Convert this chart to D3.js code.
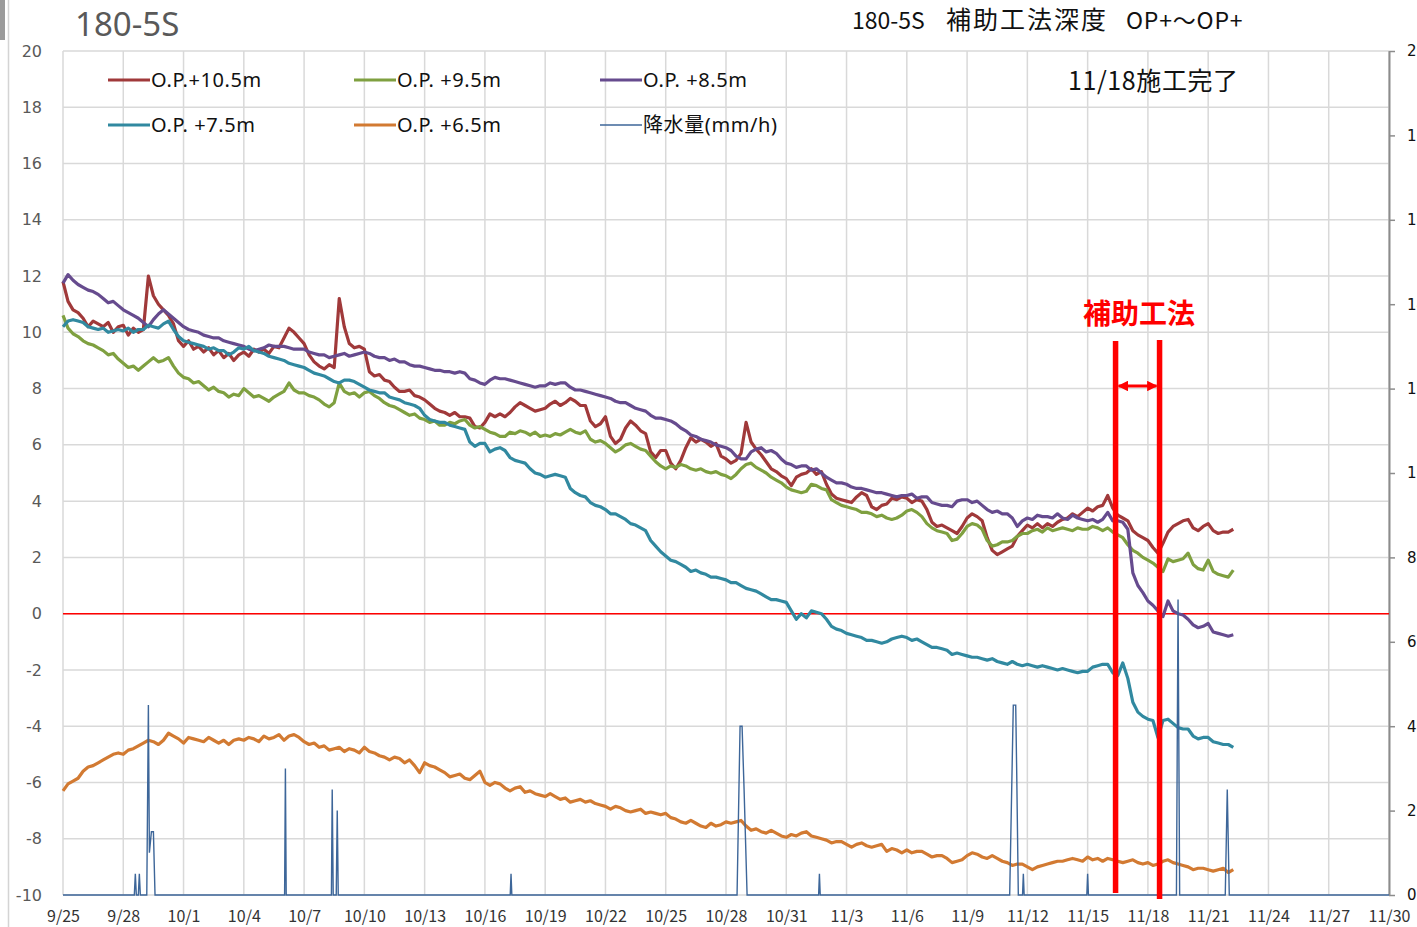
<!DOCTYPE html>
<html><head><meta charset="utf-8">
<script src="https://cdn.jsdelivr.net/npm/d3@7"></script>
<style>body{margin:0;background:#fff;overflow:hidden;} svg{display:block;}</style>
</head><body>
<svg id="chart" width="1417" height="927"></svg>
<script>
// ---------------- DATA ----------------
const startDay = "9/25";          // first sample, one sample every 6 hours
const endDay = "11/30";
const stepHours = 6;

const seriesNames = ["O.P.+10.5m", "O.P. +9.5m", "O.P. +8.5m", "O.P. +7.5m", "O.P. +6.5m", "降水量(mm/h)"];

const op105 = [
11.8,11.1,10.8,10.7, 10.5,10.2,10.4,10.3, 10.2,10.35,10.0,10.2, 10.25,9.9,10.15,10.0,
10.1,12.0,11.3,11.0, 10.8,10.6,10.3,9.7, 9.5,9.7,9.4,9.5, 9.3,9.45,9.2,9.35,
9.1,9.25,9.0,9.2, 9.3,9.15,9.4,9.3, 9.4,9.25,9.5,9.45, 9.8,10.15,10.0,9.8,
9.6,9.2,8.95,8.8, 8.7,8.85,8.75,11.2, 10.2,9.6,9.45,9.5, 9.4,8.6,8.45,8.5,
8.3,8.25,8.05,7.9, 7.9,7.95,7.75,7.7, 7.6,7.45,7.3,7.2, 7.15,7.05,7.15,7.0,
7.0,6.95,6.65,6.6, 6.8,7.1,7.0,7.1, 7.0,7.15,7.35,7.5, 7.4,7.3,7.2,7.25,
7.3,7.45,7.55,7.4, 7.5,7.65,7.55,7.4, 7.4,6.85,6.65,6.75, 7.0,6.3,6.05,6.2,
6.6,6.85,6.7,6.5, 6.4,5.75,5.55,5.8, 5.8,5.35,5.15,5.45, 5.9,6.25,6.1,6.2,
6.1,5.95,6.05,5.6, 5.5,5.35,5.45,5.7, 6.8,6.1,5.85,5.65, 5.4,5.15,5.05,4.9,
4.8,4.55,4.85,4.95, 5.0,5.15,4.95,5.05, 4.6,4.25,4.1,4.05, 4.0,3.95,4.15,4.3,
4.2,3.8,3.7,3.85, 3.9,4.1,4.05,4.15, 4.1,3.95,4.05,4.0, 3.7,3.25,3.1,3.15,
3.05,2.95,2.85,3.1, 3.4,3.55,3.45,3.3, 2.7,2.25,2.1,2.2, 2.3,2.4,2.75,2.95,
3.15,3.05,3.2,3.05, 3.2,3.1,3.25,3.35, 3.4,3.55,3.45,3.6, 3.75,3.65,3.8,3.85,
4.2,3.75,3.5,3.4, 3.3,2.95,2.8,2.7, 2.6,2.35,2.15,2.5, 2.9,3.1,3.2,3.3,
3.35,3.05,2.95,3.1, 3.2,2.95,2.85,2.9, 2.9,3.0];

const op95 = [
10.6,10.15,9.95,9.85, 9.7,9.6,9.55,9.45, 9.35,9.2,9.25,9.05, 8.9,8.75,8.8,8.65,
8.8,8.95,9.1,8.95, 9.0,9.1,8.8,8.55, 8.4,8.35,8.2,8.25, 8.1,7.95,8.05,7.9,
7.85,7.7,7.8,7.75, 8.0,7.85,7.7,7.75, 7.65,7.55,7.7,7.8, 7.9,8.2,7.95,7.85,
7.85,7.75,7.7,7.6, 7.45,7.35,7.5,8.2, 7.9,7.8,7.85,7.7, 7.85,7.9,7.75,7.65,
7.5,7.4,7.35,7.25, 7.15,7.05,7.1,6.95, 6.9,6.8,6.85,6.7, 6.7,6.8,6.75,6.85,
6.9,6.7,6.6,6.65, 6.55,6.45,6.4,6.3, 6.3,6.45,6.4,6.5, 6.45,6.35,6.45,6.3,
6.35,6.3,6.4,6.35, 6.45,6.55,6.45,6.4, 6.5,6.2,6.1,6.15, 6.05,5.9,5.75,5.85,
6.0,6.05,5.95,5.85, 5.8,5.6,5.4,5.25, 5.15,5.25,5.2,5.3, 5.25,5.15,5.1,5.15,
5.05,5.0,5.05,4.95, 4.9,4.8,4.95,5.15, 5.3,5.35,5.2,5.1, 5.0,4.85,4.75,4.65,
4.5,4.4,4.35,4.3, 4.35,4.6,4.55,4.45, 4.4,4.05,3.95,3.85, 3.8,3.75,3.7,3.6,
3.6,3.55,3.45,3.5, 3.4,3.35,3.4,3.5, 3.65,3.7,3.6,3.45, 3.2,3.05,2.95,2.9,
2.85,2.6,2.65,2.85, 3.1,3.2,3.15,3.0, 2.6,2.4,2.45,2.55, 2.55,2.6,2.75,2.85,
2.85,2.95,3.0,2.9, 3.05,2.95,3.0,3.05, 3.0,2.95,3.05,3.0, 3.0,3.1,3.05,2.95,
3.05,2.9,2.8,2.7, 2.45,2.25,2.15,2.0, 1.9,1.8,1.65,1.5, 1.95,1.85,1.9,1.95,
2.15,1.75,1.6,1.55, 1.9,1.5,1.4,1.35, 1.3,1.55];

const op85 = [
11.75,12.05,11.85,11.7, 11.6,11.5,11.45,11.35, 11.2,11.05,11.1,10.95, 10.8,10.7,10.6,10.5,
10.35,10.2,10.45,10.65, 10.8,10.65,10.5,10.35, 10.2,10.1,10.05,10.0, 9.9,9.85,9.8,9.8,
9.7,9.65,9.6,9.55, 9.5,9.4,9.35,9.4, 9.45,9.55,9.5,9.5, 9.5,9.45,9.4,9.4,
9.4,9.3,9.25,9.2, 9.2,9.1,9.15,9.2, 9.25,9.15,9.2,9.25, 9.3,9.25,9.15,9.1,
9.1,9.0,9.05,8.95, 8.95,8.85,8.8,8.8, 8.75,8.7,8.65,8.65, 8.6,8.6,8.55,8.6,
8.55,8.35,8.3,8.2, 8.15,8.3,8.4,8.35, 8.35,8.3,8.25,8.2, 8.15,8.1,8.05,8.1,
8.1,8.2,8.15,8.2, 8.2,8.05,7.95,7.95, 7.9,7.85,7.8,7.75, 7.7,7.65,7.55,7.5,
7.5,7.4,7.3,7.25, 7.2,7.05,6.95,6.95, 6.9,6.85,6.75,6.6, 6.5,6.35,6.3,6.2,
6.15,6.1,6.0,5.95, 5.9,5.8,5.6,5.5, 5.5,5.75,5.85,5.9, 5.75,5.8,5.7,5.5,
5.35,5.3,5.2,5.25, 5.25,5.1,5.15,5.0, 4.85,4.75,4.65,4.65, 4.6,4.5,4.45,4.45,
4.4,4.35,4.3,4.3, 4.25,4.2,4.15,4.2, 4.2,4.25,4.1,4.15, 4.15,3.95,3.9,3.85,
3.85,3.8,4.0,4.05, 4.05,3.95,4.0,3.85, 3.7,3.6,3.65,3.55, 3.55,3.4,3.1,3.3,
3.4,3.35,3.5,3.45, 3.45,3.4,3.55,3.4, 3.35,3.5,3.4,3.35, 3.3,3.35,3.25,3.35,
3.6,3.3,3.3,3.25, 3.0,1.45,1.0,0.75, 0.45,0.3,0.1,-0.1, 0.45,0.1,0.0,-0.05,
-0.2,-0.4,-0.5,-0.45, -0.35,-0.65,-0.7,-0.75, -0.8,-0.75];

const op75 = [
10.2,10.4,10.45,10.4, 10.35,10.2,10.15,10.1, 10.15,10.0,10.05,10.1, 10.05,10.15,10.0,10.1,
10.1,10.25,10.2,10.15, 10.3,10.4,10.1,9.85, 9.7,9.65,9.6,9.55, 9.5,9.4,9.45,9.35,
9.35,9.2,9.3,9.45, 9.4,9.5,9.35,9.3, 9.25,9.15,9.1,9.05, 9.0,8.9,8.85,8.8,
8.75,8.65,8.55,8.5, 8.45,8.35,8.25,8.2, 8.3,8.3,8.25,8.15, 8.05,7.95,7.9,7.85,
7.85,7.7,7.65,7.6, 7.5,7.45,7.4,7.3, 7.05,6.9,6.85,6.8, 6.8,6.7,6.65,6.6,
6.55,6.1,5.95,6.05, 6.05,5.75,5.85,5.9, 5.8,5.55,5.45,5.4, 5.35,5.15,5.0,4.95,
4.85,4.9,4.95,4.9, 4.85,4.45,4.3,4.2, 4.15,3.95,3.85,3.8, 3.7,3.55,3.55,3.45,
3.35,3.2,3.15,3.05, 2.95,2.6,2.4,2.2, 2.05,1.9,1.85,1.75, 1.65,1.5,1.55,1.45,
1.4,1.3,1.3,1.25, 1.2,1.1,1.1,1.0, 0.9,0.85,0.8,0.7, 0.6,0.5,0.5,0.45,
0.4,0.1,-0.2,0.0, -0.15,0.1,0.05,0.0, -0.2,-0.45,-0.55,-0.6, -0.7,-0.75,-0.8,-0.85,
-0.95,-0.95,-1.0,-1.05, -1.0,-0.9,-0.85,-0.8, -0.85,-0.95,-0.9,-1.0, -1.1,-1.2,-1.2,-1.25,
-1.3,-1.45,-1.4,-1.45, -1.5,-1.55,-1.55,-1.6, -1.65,-1.6,-1.7,-1.75, -1.8,-1.7,-1.8,-1.85,
-1.8,-1.85,-1.9,-1.85, -1.9,-1.95,-2.0,-1.95, -2.0,-2.05,-2.1,-2.05, -2.05,-1.9,-1.85,-1.8,
-1.8,-2.1,-2.2,-1.75, -2.3,-3.15,-3.5,-3.65, -3.75,-3.8,-4.4,-3.8, -3.75,-3.9,-4.05,-4.1,
-4.1,-4.35,-4.45,-4.4, -4.4,-4.55,-4.6,-4.65, -4.65,-4.75];

const op65 = [
-6.3,-6.05,-5.95,-5.85, -5.6,-5.45,-5.4,-5.3, -5.2,-5.1,-5.0,-4.95, -5.0,-4.85,-4.8,-4.7,
-4.6,-4.5,-4.55,-4.65, -4.5,-4.25,-4.35,-4.45, -4.6,-4.4,-4.45,-4.5, -4.55,-4.4,-4.5,-4.6,
-4.5,-4.65,-4.5,-4.45, -4.5,-4.4,-4.45,-4.55, -4.35,-4.45,-4.4,-4.3, -4.5,-4.35,-4.3,-4.4,
-4.55,-4.65,-4.6,-4.75, -4.7,-4.85,-4.8,-4.75, -4.9,-4.8,-4.85,-4.95, -4.75,-4.9,-4.95,-5.05,
-5.1,-5.2,-5.1,-5.15, -5.3,-5.2,-5.4,-5.65, -5.3,-5.4,-5.45,-5.55, -5.65,-5.8,-5.75,-5.7,
-5.85,-5.9,-5.75,-5.6, -6.0,-6.1,-6.0,-6.05, -6.2,-6.3,-6.2,-6.15, -6.35,-6.3,-6.4,-6.45,
-6.5,-6.4,-6.5,-6.6, -6.55,-6.7,-6.65,-6.6, -6.7,-6.65,-6.75,-6.8, -6.85,-6.95,-6.85,-6.9,
-7.0,-7.05,-7.0,-6.95, -7.1,-7.05,-7.1,-7.15, -7.1,-7.25,-7.3,-7.4, -7.45,-7.35,-7.45,-7.55,
-7.6,-7.45,-7.55,-7.5, -7.4,-7.45,-7.4,-7.35, -7.55,-7.7,-7.65,-7.75, -7.8,-7.7,-7.8,-7.9,
-7.95,-7.85,-7.9,-7.8, -7.75,-7.9,-7.95,-8.0, -8.05,-8.15,-8.1,-8.1, -8.2,-8.3,-8.2,-8.15,
-8.25,-8.3,-8.25,-8.2, -8.45,-8.35,-8.4,-8.5, -8.4,-8.5,-8.45,-8.45, -8.55,-8.65,-8.6,-8.6,
-8.7,-8.85,-8.8,-8.75, -8.6,-8.5,-8.55,-8.65, -8.7,-8.6,-8.7,-8.8, -8.85,-8.95,-8.9,-8.9,
-9.0,-9.1,-9.0,-8.95, -8.9,-8.85,-8.8,-8.8, -8.75,-8.7,-8.75,-8.8, -8.65,-8.75,-8.7,-8.8,
-8.7,-8.75,-8.8,-8.85, -8.8,-8.75,-8.85,-8.9, -8.85,-8.95,-8.9,-8.8, -8.75,-8.85,-8.9,-8.95,
-9.0,-9.1,-9.05,-9.05, -9.1,-9.15,-9.1,-9.05, -9.2,-9.1];

// rainfall: time (days after 9/25 00:00) and mm/h
const rainDays = [0, 3.55,3.6,3.65, 3.75,3.8,3.85, 4.17,4.25,4.3,4.4,4.5,4.58,
  11.03,11.07,11.11, 13.36,13.4,13.45, 13.6,13.65,13.7, 22.26,22.3,22.34,
  33.55,33.7,33.8,33.9,34.05, 37.61,37.65,37.69, 47.12,47.3,47.42,47.47,47.55,
  47.76,47.8,47.84, 50.96,51.0,51.04, 55.42,55.5,55.58, 57.85,57.95,58.05, 66];
const rainValues = [0, 0,0.5,0, 0,0.5,0, 0,4.5,1.0,1.5,1.5,0,
  0,3.0,0, 0,2.5,0, 0,2.0,0, 0,0.5,0,
  0,4.0,4.0,2.5,0, 0,0.5,0, 0,4.5,4.5,2.9,0,
  0,0.5,0, 0,0.5,0, 0,7.0,0, 0,2.5,0, 0];

const xTickLabels = ["9/25","9/28","10/1","10/4","10/7","10/10","10/13","10/16","10/19","10/22","10/25","10/28","10/31","11/3","11/6","11/9","11/12","11/15","11/18","11/21","11/24","11/27","11/30"];
const leftTicks = [-10,-8,-6,-4,-2,0,2,4,6,8,10,12,14,16,18,20];
const rightTicks = [0,2,4,6,8,10,12,14,16,18,20];

const workStart = 52.39;   // days after 9/25, construction window
const workEnd = 54.58;

// ---------------- LAYOUT / STYLE ----------------
const YEAR = 2019;
const parseMD = s => { const [m, d] = s.split("/").map(Number); return new Date(Date.UTC(YEAR, m - 1, d)); };
const t0 = parseMD(startDay);
const dayMs = 86400000;
const toDate = days => new Date(t0.getTime() + days * dayMs);

const plot = {left: 63, right: 1389, top: 51, bottom: 895};
const svg = d3.select("#chart");

const x = d3.scaleUtc().domain([t0, parseMD(endDay)]).range([plot.left, plot.right]);
const yL = d3.scaleLinear().domain([-10, 20]).range([plot.bottom, plot.top]);
const yR = d3.scaleLinear().domain([0, 20]).range([plot.bottom, plot.top]);

// left frame artefacts of the screenshot
svg.append("rect").attr("x", 0).attr("y", 0).attr("width", 5).attr("height", 40).attr("fill", "#9a9a9a");
svg.append("line").attr("x1", 8.5).attr("x2", 8.5).attr("y1", 0).attr("y2", 927).attr("stroke", "#d4d4d4").attr("stroke-width", 1.5);

// gridlines
const grid = svg.append("g");
grid.selectAll("line.h").data(leftTicks).join("line")
  .attr("x1", plot.left).attr("x2", plot.right)
  .attr("y1", d => yL(d)).attr("y2", d => yL(d))
  .attr("stroke", "#d9d9d9").attr("stroke-width", 1.5);
grid.selectAll("line.v").data(xTickLabels).join("line")
  .attr("x1", d => x(parseMD(d))).attr("x2", d => x(parseMD(d)))
  .attr("y1", plot.top).attr("y2", plot.bottom)
  .attr("stroke", "#d9d9d9").attr("stroke-width", 1.5);

// left axis labels
const axL = svg.append("g").attr("transform", `translate(42,0)`)
  .call(d3.axisLeft(yL).tickValues(leftTicks).tickSize(0).tickPadding(0).tickFormat(d => String(d)));
axL.select(".domain").remove();
axL.selectAll("text").attr("font-family", "DejaVu Sans, Verdana, sans-serif").attr("font-size", 16).attr("fill", "#595959");

// right axis
const axR = svg.append("g").attr("transform", `translate(${plot.right},0)`)
  .call(d3.axisRight(yR).tickValues(rightTicks).tickSize(6).tickPadding(12).tickFormat(d => String(d)));
axR.select(".domain").attr("stroke", "#8c8c8c").attr("stroke-width", 2).attr("d", `M0.5,${plot.top}V${plot.bottom}`);
axR.selectAll(".tick line").attr("stroke", "#8c8c8c").attr("stroke-width", 1.5);
axR.selectAll("text").attr("font-family", "DejaVu Sans, Verdana, sans-serif").attr("font-size", 15).attr("fill", "#111");

// x axis labels
const axX = svg.append("g").attr("transform", `translate(0,${plot.bottom})`)
  .call(d3.axisBottom(x).tickValues(xTickLabels.map(parseMD)).tickSize(0).tickPadding(16)
    .tickFormat((d, i) => xTickLabels[i]));
axX.select(".domain").remove();
axX.selectAll("text").attr("font-family", "Noto Sans CJK JP, sans-serif").attr("font-size", 16).attr("fill", "#333");

// zero line
svg.append("line").attr("x1", plot.left).attr("x2", plot.right)
  .attr("y1", yL(0)).attr("y2", yL(0)).attr("stroke", "#ff0000").attr("stroke-width", 1.5);

// series
const series = [
  {name: seriesNames[0], values: op105, color: "#a0393a"},
  {name: seriesNames[1], values: op95, color: "#7fa040"},
  {name: seriesNames[2], values: op85, color: "#664b8e"},
  {name: seriesNames[3], values: op75, color: "#3189a0"},
  {name: seriesNames[4], values: op65, color: "#d27a32"}
];
const lineL = d3.line().x((d, i) => x(toDate(i * stepHours / 24))).y(d => yL(d));
svg.append("g").selectAll("path").data(series).join("path")
  .attr("d", d => lineL(d.values))
  .attr("fill", "none").attr("stroke", d => d.color).attr("stroke-width", 3.2)
  .attr("stroke-linejoin", "round");

// rain
const rain = rainDays.map((d, i) => [d, rainValues[i]]);
svg.append("path")
  .attr("d", d3.line().x(d => x(toDate(d[0]))).y(d => yR(d[1]))(rain))
  .attr("fill", "none").attr("stroke", "#3d6699").attr("stroke-width", 1.4);

// legend
const legendItems = [
  {name: seriesNames[0], color: "#a0393a", col: 0, row: 0},
  {name: seriesNames[1], color: "#7fa040", col: 1, row: 0},
  {name: seriesNames[2], color: "#664b8e", col: 2, row: 0},
  {name: seriesNames[3], color: "#3189a0", col: 0, row: 1},
  {name: seriesNames[4], color: "#d27a32", col: 1, row: 1},
  {name: seriesNames[5], color: "#3d6699", col: 2, row: 1}
];
const lg = svg.append("g").selectAll("g").data(legendItems).join("g")
  .attr("transform", d => `translate(${108 + d.col * 246},${80 + d.row * 45})`);
lg.append("line").attr("x1", 0).attr("x2", 42).attr("y1", 0).attr("y2", 0)
  .attr("stroke", d => d.color).attr("stroke-width", d => d.row === 1 && d.col === 2 ? 1.5 : 3);
lg.append("text").attr("x", 43).attr("y", 7).text(d => d.name)
  .attr("font-family", "Noto Sans, Noto Sans CJK JP, sans-serif").attr("font-size", 20)
  .attr("letter-spacing", 0.6).attr("fill", "#111");

// titles
svg.append("text").attr("x", 75).attr("y", 36).text("180-5S")
  .attr("font-family", "Noto Sans, sans-serif").attr("font-size", 33).attr("fill", "#595959");
const tt = svg.append("g").attr("font-family", "Noto Sans CJK JP, sans-serif").attr("fill", "#111");
tt.append("text").attr("x", 852).attr("y", 29).attr("font-size", 23).text("180-5S");
tt.append("text").attr("x", 946).attr("y", 29).attr("font-size", 25).attr("letter-spacing", 2).text("補助工法深度");
tt.append("text").attr("x", 1126).attr("y", 29).attr("font-size", 23).attr("letter-spacing", 0.8).text("OP+～OP+");
svg.append("text").attr("x", 1068).attr("y", 90).text("11/18施工完了")
  .attr("font-family", "Noto Sans CJK JP, sans-serif").attr("font-size", 25).attr("letter-spacing", 0.6).attr("fill", "#111");

// construction annotation
const xa = x(toDate(workStart)), xb = x(toDate(workEnd));
svg.append("line").attr("x1", xa).attr("x2", xa).attr("y1", 341).attr("y2", 893).attr("stroke", "#ff0000").attr("stroke-width", 5.5);
svg.append("line").attr("x1", xb).attr("x2", xb).attr("y1", 340).attr("y2", 899).attr("stroke", "#ff0000").attr("stroke-width", 5.5);
const defs = svg.append("defs");
defs.append("marker").attr("id", "ah").attr("viewBox", "0 0 10 10").attr("refX", 9).attr("refY", 5)
  .attr("markerWidth", 3.5).attr("markerHeight", 3.5).attr("orient", "auto-start-reverse")
  .append("path").attr("d", "M0,0L10,5L0,10z").attr("fill", "#ff0000");
svg.append("line").attr("x1", xa + 3).attr("x2", xb - 3).attr("y1", 386).attr("y2", 386)
  .attr("stroke", "#ff0000").attr("stroke-width", 3)
  .attr("marker-start", "url(#ah)").attr("marker-end", "url(#ah)");
svg.append("text").attr("x", 1083).attr("y", 324).text("補助工法")
  .attr("font-family", "Noto Sans CJK JP, sans-serif").attr("font-weight", "bold").attr("font-size", 28).attr("fill", "#ff0000");
</script>
</body></html>
